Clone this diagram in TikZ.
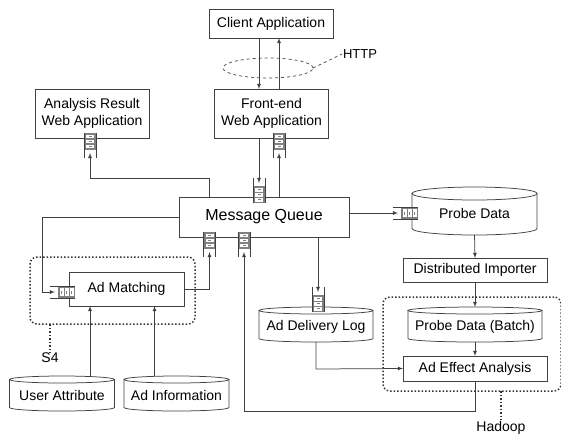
\documentclass[tikz,border=0pt]{standalone}
\usepackage{fontspec}
\setmainfont{Liberation Sans}
\usetikzlibrary{shapes.geometric}

\tikzset{
    wire/.style={black!75, line width=0.75pt},
    flow/.style={wire, ->, >=latex},
    box/.style={wire, draw, text=black, inner sep=0pt, outer sep=0pt, align=center, font=\fontsize{14}{17}\selectfont},
    dbtext/.style={inner sep=0pt, outer sep=0pt, font=\fontsize{14}{17}\selectfont},
    cluster/.style={draw=black!80, line width=1.5pt, dotted, rounded corners=7pt, inner sep=0pt, outer sep=0pt},
    caption/.style={inner sep=0pt, outer sep=1pt, font=\fontsize{14}{17}\selectfont},
    pics/msgqueue/.style={code={
        \fill[black!50] (-6,0) rectangle (6,-17);
        \foreach \i in {0,1,2} {
            \fill[white] (-4,-1.5-5*\i) rectangle (4,-5-5*\i);
            \fill[black!50] (-1.5,-2.8-5*\i) rectangle (1.5,-3.7-5*\i);
        }
        \draw[wire] (-6,0) -- (-6,-25);
        \draw[wire] (6,0) -- (6,-25);
        \coordinate (-tip) at (0,-20);
    }},
}

% name, x, y, width, height, ellipse radius, text
\newcommand{\dbstore}[7]{
    \node[minimum width=#4pt, minimum height=#5pt, inner sep=0pt, outer sep=0pt] (#1) at (#2,#3) {};
    \draw[wire] ([yshift=-#6pt]#1.north west) -- ([yshift=#6pt]#1.south west)
        arc[start angle=180, end angle=360, x radius=0.5*#4pt, y radius=#6pt]
        -- ([yshift=-#6pt]#1.north east);
    \draw[wire] ([yshift=-#6pt]#1.north) ellipse[x radius=0.5*#4pt, y radius=#6pt];
    \node[dbtext] (#1text) at ([yshift=-2pt]#1) {#7};
}

\begin{document}
\begin{tikzpicture}[x=1pt, y=-1pt]
    \useasboundingbox (0,0) rectangle (561,437);

    \node[cluster, minimum width=165pt, minimum height=67pt] (s4box) at (112.5,290.5) {};
    \node[cluster, minimum width=178pt, minimum height=94pt] (hadoopbox) at (472,344) {};

    \node[box, minimum width=124pt, minimum height=29pt] (client) at (271,23.5) {Client Application};
    \node[box, minimum width=114pt, minimum height=49pt] (front) at (271.5,113.5) {Front-end\\Web Application};
    \node[box, minimum width=114pt, minimum height=49pt] (result) at (92,113.5) {Analysis Result\\Web Application};
    \node[box, minimum width=170pt, minimum height=40pt, font=\fontsize{16}{19}\selectfont] (mq) at (264,217) {Message Queue};
    \node[box, minimum width=144pt, minimum height=24pt] (importer) at (475,270) {Distributed Importer};
    \node[box, minimum width=144pt, minimum height=25pt] (effect) at (475,368.5) {Ad Effect Analysis};
    \node[box, minimum width=115pt, minimum height=34pt] (matching) at (126.5,289) {Ad Matching};

    \dbstore{probe}{474.5}{211}{125}{48}{6.5}{Probe Data}
    \dbstore{batch}{475}{324.5}{134}{35}{3.5}{Probe Data (Batch)}
    \dbstore{deliverylog}{316}{324.5}{114}{35}{3.5}{Ad Delivery Log}
    \dbstore{user}{62}{393.5}{105}{35}{3.5}{User Attribute}
    \dbstore{adinfo}{176.5}{393.5}{105}{35}{3.5}{Ad Information}

    % queues, closed end at the given point
    \pic (qresult) at (90,133) [rotate=180] {msgqueue};
    \pic (qfrontout) at (279,133) [rotate=180] {msgqueue};
    \pic (qfrontin) at (259,203) {msgqueue};
    \pic (qprobe) at (418,213) [rotate=90] {msgqueue};
    \pic (qmatchin) at (75,292) [rotate=90] {msgqueue};
    \pic (qmatchout) at (209.5,232) [rotate=180] {msgqueue};
    \pic (qeffect) at (244,232) [rotate=180] {msgqueue};
    \pic (qlog) at (318,312) {msgqueue};

    \draw[flow] (client.south -| qfrontin-tip) -- (front.north -| qfrontin-tip);
    \draw[flow] (front.north -| qfrontout-tip) -- (client.south -| qfrontout-tip);
    \draw[flow] (front.south -| qfrontin-tip) -- (qfrontin-tip);
    \draw[flow] (mq.north -| qfrontout-tip) -- (qfrontout-tip);
    \draw[flow] (mq.north -| 209,0) -- (209,178) -| (qresult-tip);
    \draw[flow] (mq.east |- qprobe-tip) -- (qprobe-tip);
    \draw[flow] (mq.west) -- (42,217) |- (qmatchin-tip);
    \draw[flow] (matching.east) -| (qmatchout-tip);
    \draw[flow] (effect.south) -- (475,411) -| (qeffect-tip);
    \draw[flow] (mq.south -| qlog-tip) -- (qlog-tip);
    \draw[flow] (user.north -| 90,0) -- (matching.south -| 90,0);
    \draw[flow] (adinfo.north -| 154.5,0) -- (matching.south -| 154.5,0);
    \draw[flow] (deliverylog.south) -- (316,369) -- (effect.west);
    \draw[flow] (probe.south) -- (importer.north);
    \draw[flow] (importer.south) -- (batch.north);
    \draw[flow] (batch.south) -- (effect.north);

    \node[draw=black!70, dashed, line width=0.75pt, ellipse, minimum width=90pt, minimum height=20pt, inner sep=0pt, outer sep=0pt] (httpring) at (268,68) {};
    \node[caption, font=\fontsize{13}{16}\selectfont] (httplabel) at (360,54) {HTTP};
    \draw[black!70, dashed, line width=0.75pt] (httpring.east) -- (httplabel.west);

    \node[caption] (s4label) at (50,358) {S4};
    \draw[black!80, line width=1.5pt, dotted] (s4box.south -| s4label) -- (s4label.north);
    \node[caption] (hadooplabel) at (501,428) {Hadoop};
    \draw[black!80, line width=1.5pt, dotted] (hadoopbox.south -| hadooplabel) -- (hadooplabel.north);
\end{tikzpicture}
\end{document}
